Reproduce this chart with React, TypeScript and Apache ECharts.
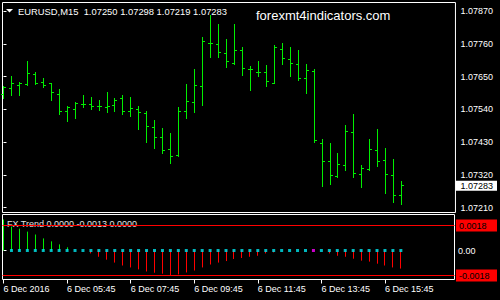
import React, { useEffect, useRef } from 'react';
import * as echarts from 'echarts';

const symbolName = 'EURUSD,M15';
const indicatorName = 'FX Trend';
const watermark = 'forexmt4indicators.com';

const opens = [
  1.07591, 1.07611, 1.07621, 1.07624, 1.07658, 1.07631, 1.07626, 1.07591, 1.07533, 1.0754,
  1.07557, 1.07557, 1.07548, 1.07547, 1.07554, 1.07575, 1.07531, 1.07541, 1.07527, 1.0748,
  1.07444, 1.07405, 1.07384, 1.07534, 1.07564, 1.07617, 1.07762, 1.07758, 1.07728, 1.07694,
  1.07738, 1.07673, 1.07665, 1.07663, 1.07628, 1.07742, 1.07706, 1.07691, 1.07644, 1.07668,
  1.07426, 1.07366, 1.07315, 1.07352, 1.07463, 1.07322, 1.07339, 1.07403, 1.07369, 1.07319,
  1.0725,
];
const highs = [
  1.07618, 1.07649, 1.07631, 1.07699, 1.07665, 1.07642, 1.07628, 1.07608, 1.07548, 1.07562,
  1.07585, 1.07578, 1.07568, 1.07598, 1.07577, 1.07588, 1.07578, 1.07549, 1.07534, 1.07504,
  1.07474, 1.0746, 1.07545, 1.07622, 1.07672, 1.07782, 1.07854, 1.07826, 1.07773, 1.07826,
  1.07746, 1.07685, 1.07699, 1.07688, 1.07753, 1.07762, 1.07746, 1.07736, 1.07689, 1.07675,
  1.07437, 1.07424, 1.07393, 1.07487, 1.07524, 1.0735, 1.0744, 1.07471, 1.0741, 1.07373,
  1.07298,
];
const lows = [
  1.07576, 1.07588, 1.07586, 1.07621, 1.07623, 1.07613, 1.07571, 1.07521, 1.07499, 1.07508,
  1.07545, 1.07538, 1.07535, 1.07529, 1.07532, 1.07522, 1.07515, 1.07471, 1.07427, 1.07409,
  1.07392, 1.07358, 1.07381, 1.07509, 1.07529, 1.07552, 1.07713, 1.07715, 1.0768, 1.07692,
  1.07653, 1.07603, 1.07649, 1.07618, 1.07627, 1.07689, 1.0765, 1.07636, 1.07592, 1.07429,
  1.0728, 1.07289, 1.0731, 1.07336, 1.07311, 1.07276, 1.07334, 1.07347, 1.07257, 1.07227,
  1.07219,
];
const closes = [
  1.07613, 1.07627, 1.07628, 1.07661, 1.07626, 1.07621, 1.07597, 1.07533, 1.07547, 1.07559,
  1.07556, 1.0755, 1.0755, 1.07551, 1.0757, 1.07531, 1.07543, 1.07529, 1.07482, 1.07444,
  1.07403, 1.07383, 1.07532, 1.07565, 1.07621, 1.07767, 1.07761, 1.0773, 1.077, 1.07738,
  1.07678, 1.07672, 1.07663, 1.07632, 1.07748, 1.07709, 1.07694, 1.07644, 1.07671, 1.07436,
  1.07366, 1.07319, 1.07356, 1.07466, 1.07325, 1.07342, 1.07406, 1.07366, 1.07322, 1.07251,
  1.07283,
];
const trendValues = [
  0.00223, 0.00172, 0.00157, 0.00136, 0.00115, 0.00087, 0.00066, 0.00044, 0.00023, 0,
  0, -0.00021, -0.00045, -0.00066, -0.00087, -0.00108, -0.00122, -0.00136, -0.00151, -0.0016,
  -0.00167, -0.00177, -0.00172, -0.00158, -0.00144, -0.00122, -0.00101, -0.00087, -0.00076, -0.00061,
  -0.00054, -0.00045, -0.00038, -0.00021, -0.00014, 0, 0, 0, 0, 0,
  0, -0.00021, -0.00038, -0.00045, -0.00059, -0.00073, -0.0008, -0.00095, -0.00108, -0.00122,
  -0.0013,
];
const flatSignalBars = [39];
const firstSignalBar = 1;
const timeTickBars = [0, 8, 16, 24, 32, 40, 48];
const timeLabels = ['6 Dec 2016', '6 Dec 05:45', '6 Dec 07:45', '6 Dec 09:45', '6 Dec 11:45', '6 Dec 13:45', '6 Dec 15:45'];
const priceTicks = [1.0721, 1.0732, 1.0743, 1.0754, 1.0765, 1.0776, 1.0787];
const trendLevels = [-0.0018, 0, 0.0018];
const signalLevels = [0.0018, -0.0018];

const FONT = '"Liberation Sans", Arial, sans-serif';
const GREEN = '#00ee00';
const RED = '#ff0000';
const CYAN = '#00e5ee';
const MAGENTA = '#ff00ff';

export default function App() {
  const ref = useRef<HTMLDivElement>(null);
  useEffect(() => {
    if (!ref.current) return;
    const chart = echarts.init(ref.current, null, { renderer: 'svg' });
    const n = closes.length;
    const lastClose = closes[n - 1];
    const lastTrend = trendValues[n - 1];
    const ohlc = closes.map((c, i) => [i, opens[i], highs[i], lows[i], c]);
    const posHist = trendValues.map((v, i) => [i, v]).filter((d) => d[1] > 0);
    const negHist = trendValues.map((v, i) => [i, v]).filter((d) => d[1] < 0);
    const dots = trendValues
      .map((_, i) => [i, 0])
      .filter((d) => d[0] >= firstSignalBar);

    const xMin = -0.125;
    const xMax = 56.75;

    const histItem = (color: string) => (_p: any, api: any) => {
      const k = api.value(0);
      const v = api.value(1);
      const p0 = api.coord([k, 0]);
      const p1 = api.coord([k, v]);
      const x = Math.floor(p0[0]) + 0.5;
      return {
        type: 'line',
        shape: { x1: x, y1: p0[1], x2: x, y2: p1[1] },
        style: { stroke: color, lineWidth: 1 },
      };
    };

    const option: any = {
      animation: false,
      backgroundColor: '#000000',
      textStyle: { fontFamily: FONT },
      grid: [
        { left: 2.5, top: 2.5, width: 455, height: 210, show: true, borderColor: '#ffffff', borderWidth: 1, backgroundColor: 'transparent' },
        { left: 2.5, top: 214.5, width: 455, height: 65, show: true, borderColor: '#ffffff', borderWidth: 1, backgroundColor: 'transparent' },
      ],
      xAxis: [
        { type: 'value', gridIndex: 0, min: xMin, max: xMax, show: false },
        {
          type: 'value', gridIndex: 1, min: xMin, max: xMax,
          axisLine: { show: false, onZero: false },
          splitLine: { show: false },
          axisTick: { show: true, customValues: timeTickBars, length: 4, lineStyle: { color: '#ffffff' } },
          axisLabel: {
            customValues: timeTickBars,
            color: '#ffffff', fontSize: 9, fontFamily: FONT, align: 'left', margin: 5,
            formatter: (v: number) => timeLabels[timeTickBars.indexOf(Math.round(v))] ?? '',
          },
        },
      ],
      yAxis: [
        {
          type: 'value', gridIndex: 0, position: 'right', min: 1.071936, max: 1.078985,
          axisLine: { show: false }, splitLine: { show: false },
          axisTick: { show: true, customValues: priceTicks, length: 3, lineStyle: { color: '#ffffff' } },
          axisLabel: {
            customValues: [...priceTicks, lastClose],
            margin: 0, fontSize: 9, fontFamily: FONT, color: '#ffffff',
            formatter: (v: number) => (Math.abs(v - lastClose) < 1e-9 ? `{cur|${v.toFixed(5)}}` : `{n|${v.toFixed(5)}}`),
            rich: {
              n: { color: '#ffffff', fontSize: 9, fontFamily: FONT, padding: [0, 0, 0, 5] },
              cur: { color: '#000000', backgroundColor: '#ffffff', fontSize: 9, fontFamily: FONT, padding: [1, 4, 0, 5] },
            },
          },
        },
        {
          type: 'value', gridIndex: 1, position: 'right', min: -0.002088, max: 0.002592,
          axisLine: { show: false }, splitLine: { show: false },
          axisTick: { show: true, customValues: [0], length: 3, lineStyle: { color: '#ffffff' } },
          axisLabel: {
            customValues: trendLevels,
            margin: 1.5, fontSize: 9, fontFamily: FONT, color: '#ffffff',
            formatter: (v: number) => (Math.abs(v) < 1e-12 ? '{z|0.00}' : `{lvl|${v.toFixed(4)}}`),
            rich: {
              z: { color: '#ffffff', fontSize: 9, fontFamily: FONT, padding: [0, 0, 0, 2] },
              lvl: { color: '#000000', backgroundColor: RED, fontSize: 9, fontFamily: FONT, width: 35, padding: [2, 3, 1, 3] },
            },
          },
        },
      ],
      series: [
        {
          type: 'custom', xAxisIndex: 0, yAxisIndex: 0, data: ohlc, clip: false,
          encode: { x: 0, y: [1, 2, 3, 4] },
          renderItem: (_p: any, api: any) => {
            const k = api.value(0);
            const pO = api.coord([k, api.value(1)]);
            const pH = api.coord([k, api.value(2)]);
            const pL = api.coord([k, api.value(3)]);
            const pC = api.coord([k, api.value(4)]);
            const px = Math.floor(pO[0]);
            const x = px + 0.5;
            const snap = (y: number) => Math.floor(y) + 0.5;
            const style = { stroke: GREEN, lineWidth: 1 };
            return {
              type: 'group',
              children: [
                { type: 'line', shape: { x1: x, y1: Math.floor(pH[1]), x2: x, y2: Math.floor(pL[1]) + 1 }, style },
                { type: 'line', shape: { x1: px - 2, y1: snap(pO[1]), x2: px + 1, y2: snap(pO[1]) }, style },
                { type: 'line', shape: { x1: px, y1: snap(pC[1]), x2: px + 3, y2: snap(pC[1]) }, style },
              ],
            };
          },
        },
        ...signalLevels.map((lvl) => ({
          type: 'line', xAxisIndex: 1, yAxisIndex: 1, silent: true, symbol: 'none', z: 3,
          data: [[xMin, lvl], [xMax, lvl]],
          lineStyle: { color: RED, width: 1, type: 'solid' },
        })),
        {
          type: 'custom', xAxisIndex: 1, yAxisIndex: 1, data: posHist, clip: false,
          encode: { x: 0, y: 1 }, renderItem: histItem(GREEN),
        },
        {
          type: 'custom', xAxisIndex: 1, yAxisIndex: 1, data: negHist, clip: false,
          encode: { x: 0, y: 1 }, renderItem: histItem(RED),
        },
        {
          type: 'scatter', xAxisIndex: 1, yAxisIndex: 1, data: dots, symbol: 'rect', symbolSize: 3, z: 5,
          itemStyle: { color: (p: any) => (flatSignalBars.includes(p.data[0]) ? MAGENTA : CYAN) },
        },
      ],
      graphic: [
        { type: 'polygon', z: 10, shape: { points: [[6, 9], [13, 9], [9.5, 12.5]] }, style: { fill: '#ffffff' } },
        {
          type: 'text', z: 10, x: 18, y: 11,
          style: {
            text: `${symbolName}  ${opens[n - 1].toFixed(5)} ${highs[n - 1].toFixed(5)} ${lows[n - 1].toFixed(5)} ${lastClose.toFixed(5)}`,
            fill: '#ffffff', font: `9.4px ${FONT}`, verticalAlign: 'middle',
          },
        },
        {
          type: 'text', z: 10, x: 256, y: 15.5,
          style: { text: watermark, fill: '#ffffff', font: `13px ${FONT}`, verticalAlign: 'middle' },
        },
        {
          type: 'text', z: 1, x: 7, y: 223.5,
          style: {
            text: `${indicatorName} 0.0000 ${lastTrend.toFixed(4)} 0.0000`,
            fill: '#e0e0e0', font: `9px ${FONT}`, verticalAlign: 'middle',
          },
        },
      ],
    };
    chart.setOption(option);
    return () => chart.dispose();
  }, []);
  return (
    <div
      ref={ref}
      style={{ position: 'fixed', left: 0, top: 0, width: 500, height: 300, background: '#000' }}
    />
  );
}
